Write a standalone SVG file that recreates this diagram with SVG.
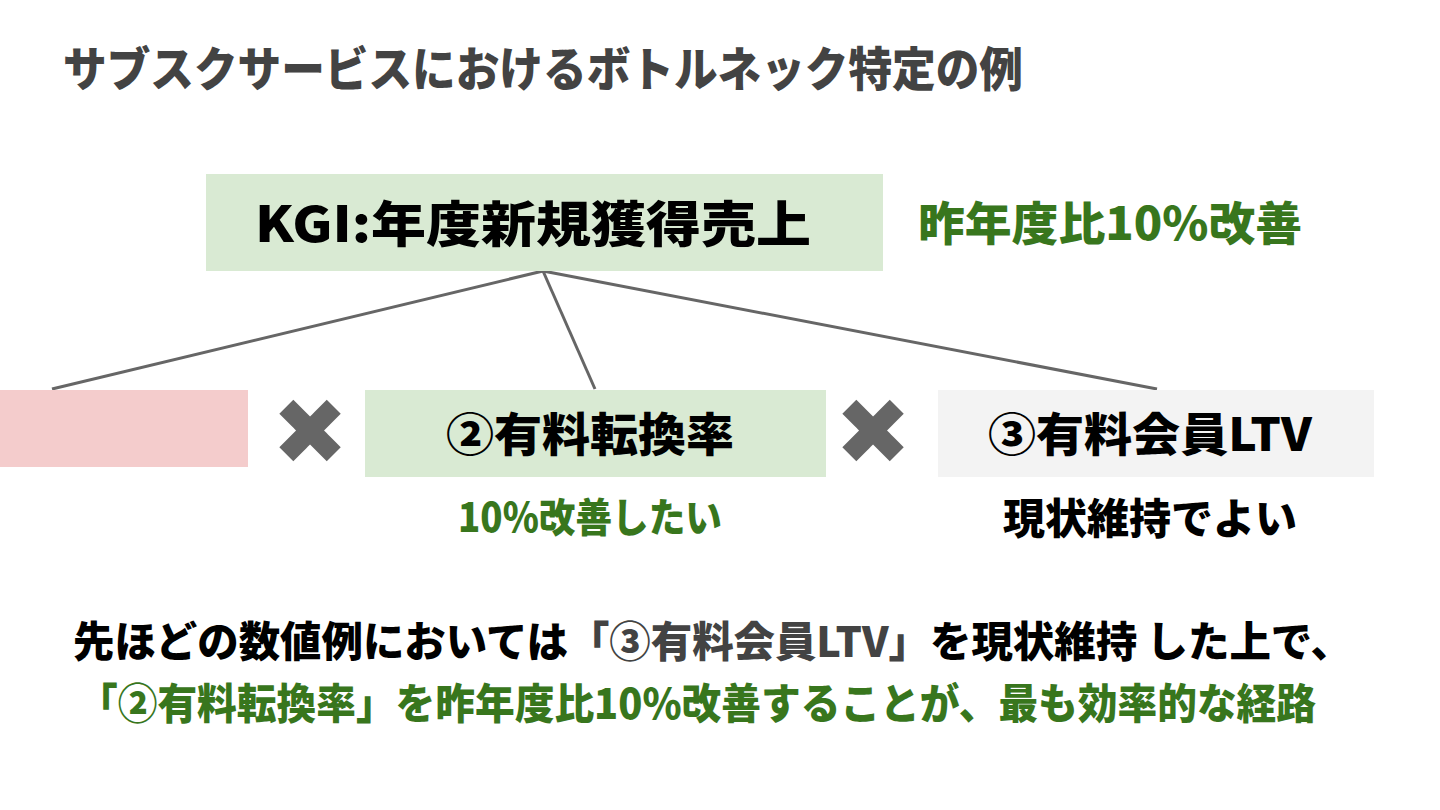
<svg xmlns="http://www.w3.org/2000/svg" width="1440" height="810" viewBox="0 0 1440 810">
<style>
.t{font-family:"Noto Sans CJK JP","Noto Sans",sans-serif;font-weight:900;}
.blk{fill:#000000;}
.gry{fill:#434343;}
.grn{fill:#38761d;}
.conn{stroke:#666666;stroke-width:3;fill:none;}
.x{font-family:"DejaVu Sans",sans-serif;fill:#666666;}
</style>
<rect width="1440" height="810" fill="#ffffff"/>
<g id="title">
<text class="t gry" x="63" y="86" font-size="47" textLength="960" lengthAdjust="spacingAndGlyphs">サブスクサービスにおけるボトルネック特定の例</text>
</g>
<g id="connectors">
<line class="conn" x1="543" y1="271" x2="52" y2="389"/>
<line class="conn" x1="543" y1="271" x2="595" y2="389"/>
<line class="conn" x1="543" y1="271" x2="1157" y2="389"/>
</g>
<g id="kgi">
<rect x="206" y="174" width="677" height="97" fill="#d9ead3"/>
<text class="t blk" x="255" y="242" font-size="49" textLength="556" lengthAdjust="spacingAndGlyphs">KGI:年度新規獲得売上</text>
</g>
<g id="kgi-target">
<text class="t grn" x="918" y="240" font-size="46" textLength="384" lengthAdjust="spacingAndGlyphs">昨年度比10%改善</text>
</g>
<g id="node1">
<rect x="0" y="390" width="248" height="77" fill="#f4cccc"/>
</g>
<g id="times1">
<text class="x" x="310" y="432" font-size="92" text-anchor="middle" dominant-baseline="central">✖</text>
</g>
<g id="node2">
<rect x="365" y="390" width="461" height="87" fill="#d9ead3"/>
<text class="t blk" x="446" y="451" font-size="46" textLength="288" lengthAdjust="spacingAndGlyphs">②有料転換率</text>
<text class="t grn" x="458" y="532" font-size="40" textLength="264" lengthAdjust="spacingAndGlyphs">10%改善したい</text>
</g>
<g id="times2">
<text class="x" x="873" y="432" font-size="92" text-anchor="middle" dominant-baseline="central">✖</text>
</g>
<g id="node3">
<rect x="938" y="390" width="436" height="87" fill="#f3f3f3"/>
<text class="t blk" x="988" y="451" font-size="46" textLength="324" lengthAdjust="spacingAndGlyphs">③有料会員LTV</text>
<text class="t blk" x="1003" y="534" font-size="42" textLength="294" lengthAdjust="spacingAndGlyphs">現状維持でよい</text>
</g>
<g id="conclusion">
<text class="t blk" x="73" y="657" font-size="42" textLength="1279" lengthAdjust="spacingAndGlyphs">先ほどの数値例においては<tspan class="gry">「③有料会員LTV」</tspan>を現状維持 した上で、</text>
<text class="t grn" x="78" y="719" font-size="42" textLength="1238" lengthAdjust="spacingAndGlyphs">「②有料転換率」を昨年度比10%改善することが、最も効率的な経路</text>
</g>
</svg>
